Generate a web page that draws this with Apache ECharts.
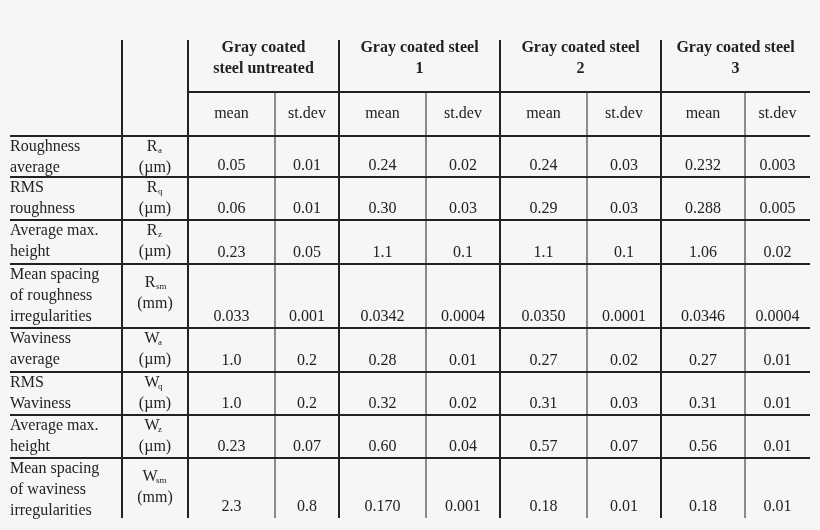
<!DOCTYPE html>
<html>
<head>
<meta charset="utf-8">
<script src="https://cdn.jsdelivr.net/npm/echarts@6/dist/echarts.min.js"></script>
<style>html,body{margin:0;background:#f6f6f6}#main{width:820px;height:530px}</style>
</head>
<body>
<div id="main"></div>
<script>
// table contents
var groups = ['Gray coated\nsteel untreated', 'Gray coated steel\n1', 'Gray coated steel\n2', 'Gray coated steel\n3'];
var subHeads = ['mean', 'st.dev'];
var rowNames = [
    'Roughness\naverage', 'RMS\nroughness', 'Average max.\nheight',
    'Mean spacing\nof roughness\nirregularities',
    'Waviness\naverage', 'RMS\nWaviness', 'Average max.\nheight',
    'Mean spacing\nof waviness\nirregularities'
];
var symbols = [['R', 'a', 'µm'], ['R', 'q', 'µm'], ['R', 'z', 'µm'], ['R', 'sm', 'mm'],
               ['W', 'a', 'µm'], ['W', 'q', 'µm'], ['W', 'z', 'µm'], ['W', 'sm', 'mm']];
var untreated = [['0.05', '0.01'], ['0.06', '0.01'], ['0.23', '0.05'], ['0.033', '0.001'],
                 ['1.0', '0.2'], ['1.0', '0.2'], ['0.23', '0.07'], ['2.3', '0.8']];
var steel1 = [['0.24', '0.02'], ['0.30', '0.03'], ['1.1', '0.1'], ['0.0342', '0.0004'],
              ['0.28', '0.01'], ['0.32', '0.02'], ['0.60', '0.04'], ['0.170', '0.001']];
var steel2 = [['0.24', '0.03'], ['0.29', '0.03'], ['1.1', '0.1'], ['0.0350', '0.0001'],
              ['0.27', '0.02'], ['0.31', '0.03'], ['0.57', '0.07'], ['0.18', '0.01']];
var steel3 = [['0.232', '0.003'], ['0.288', '0.005'], ['1.06', '0.02'], ['0.0346', '0.0004'],
              ['0.27', '0.01'], ['0.31', '0.01'], ['0.56', '0.01'], ['0.18', '0.01']];
var series = [untreated, steel1, steel2, steel3];

// layout
var colX = [10, 122, 188, 275, 339, 426, 500, 587, 661, 745, 810];
var rowY = [40, 92, 136, 177, 220, 264, 328, 372, 415, 458, 518];
var font = 'Liberation Serif';
var ink = '#222';

var els = [];
function line(x1, y1, x2, y2, w) {
    els.push({type: 'line', shape: {x1: x1, y1: y1, x2: x2, y2: y2},
        style: {stroke: ink, lineWidth: w}});
}
function text(x, y, s, align, vAlign, bold) {
    els.push({type: 'text', x: x, y: y, style: {text: s, fill: ink, fontSize: 16,
        fontFamily: font, fontWeight: bold ? 'bold' : 'normal',
        align: align, verticalAlign: vAlign, lineHeight: 21}});
}

// vertical lines
for (var i = 1; i < colX.length - 1; i++) {
    var thick = (i <= 2 || i % 2 === 0);
    line(colX[i], thick ? rowY[0] : rowY[1], colX[i], rowY[rowY.length - 1], thick ? 2 : 1);
}
// horizontal lines
line(colX[2], rowY[1], colX[10], rowY[1], 2);
for (var r = 2; r < rowY.length - 1; r++) line(colX[0], rowY[r], colX[10], rowY[r], 2);

// headers
groups.forEach(function (g, k) {
    text((colX[2 + 2 * k] + colX[4 + 2 * k]) / 2, rowY[0] - 3, g, 'center', 'top', true);
    subHeads.forEach(function (h, j) {
        text((colX[2 + 2 * k + j] + colX[3 + 2 * k + j]) / 2, (rowY[1] + rowY[2]) / 2, h, 'center', 'middle');
    });
});

// body
rowNames.forEach(function (name, r) {
    var y0 = rowY[2 + r], y1 = rowY[3 + r];
    text(colX[0], y0, name, 'left', 'top');
    var sy = symbols[r];
    var cx = (colX[1] + colX[2]) / 2, sy0 = (r === 3 || r === 7) ? y0 + 8 : y0;
    var shift = sy[1].length > 1 ? 5 : 3;
    text(cx - shift, sy0, sy[0], 'center', 'top');
    els.push({type: 'text', x: cx - shift + 6, y: sy0 + 19, style: {text: sy[1], fill: ink,
        fontSize: 9, fontFamily: font, align: 'left', verticalAlign: 'bottom'}});
    text(cx, sy0 + 21, '(' + sy[2] + ')', 'center', 'top');
    series.forEach(function (vals, k) {
        vals[r].forEach(function (v, j) {
            text((colX[2 + 2 * k + j] + colX[3 + 2 * k + j]) / 2, y1 - 1, v, 'center', 'bottom');
        });
    });
});

var myChart = echarts.init(document.getElementById('main'));
myChart.setOption({backgroundColor: '#f6f6f6', graphic: els});
</script>
</body>
</html>
